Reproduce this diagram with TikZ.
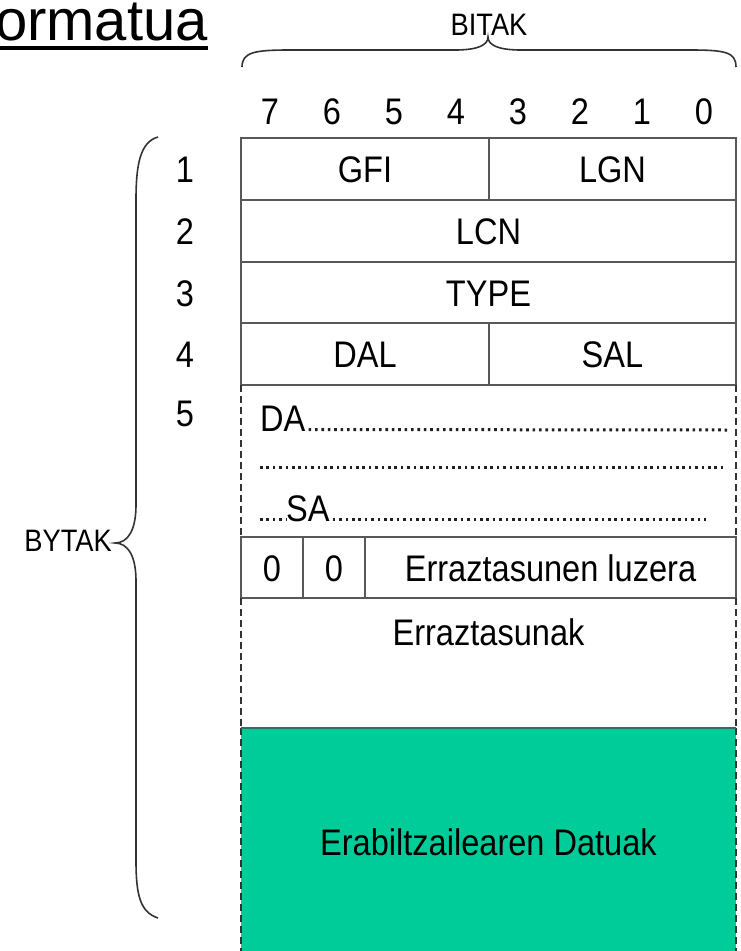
\documentclass[tikz,border=0pt]{standalone}
\usepackage{fontspec}
\setmainfont{Liberation Sans}
\newfontfamily\narrowfont{Liberation Sans}[FakeStretch=0.88]
\definecolor{linegray}{HTML}{585858}
\definecolor{datagreen}{HTML}{00CC99}
\definecolor{greenedge}{HTML}{2F6F5F}
\definecolor{dotgray}{HTML}{202020}
\begin{document}
\begin{tikzpicture}[x=1pt,y=-1pt,
  lbl/.style={font=\narrowfont\fontsize{37}{40}\selectfont, inner sep=0pt, text height=27pt, text depth=0pt},
  small/.style={font=\narrowfont\fontsize{31}{34}\selectfont, inner sep=0pt, text height=22pt, text depth=0pt},
  cell/.style={lbl, draw=linegray, line width=1.7pt},
  area/.style={inner sep=0pt, draw=none},
  sideline/.style={draw=black!80, line width=2.2pt, dash pattern=on 7pt off 4pt},
  dotrow/.style={draw=dotgray, line width=3pt, dash pattern=on 2.6pt off 3.8pt},
  brace/.style={draw=black!80, line width=1.6pt}
]
\useasboundingbox (0,0) rectangle (740,951);

% title
\node[font=\fontsize{58}{62}\selectfont, inner sep=0pt, anchor=base east] (title) at (208,40) {ormatua};
\draw[line width=4pt] (0,47.5) -- (title.base east |- 0,47.5);

% BITAK brace
\node[small] (bitak) at (489,24) {BITAK};
\coordinate (tbl) at (242,67);
\coordinate (tbr) at (736,67);
\coordinate (ttip) at (488,37);
\draw[brace] (tbl) .. controls (242,52) and (255,50) .. (290,50) -- (455,50)
  .. controls (478,50) and (488,45) .. (ttip)
  .. controls (488,45) and (498,50) .. (521,50) -- (690,50)
  .. controls (725,50) and (736,52) .. (tbr);

% bit numbers
\foreach \b [count=\i from 0] in {7,6,5,4,3,2,1,0}
  \node[lbl] (bit\b) at (270+62*\i,111) {\b};

% BYTAK brace
\node[small, anchor=east] (bytak) at (112,540) {BYTAK};
\coordinate (lbt) at (158,137);
\coordinate (lbb) at (158,918);
\coordinate (ltip) at (115,543);
\draw[brace] (lbt) .. controls (140,142) and (136,165) .. (136,200) -- (136,505)
  .. controls (136,530) and (128,543) .. (ltip)
  .. controls (128,543) and (136,556) .. (136,581) -- (136,860)
  .. controls (136,895) and (140,912) .. (lbb);

% byte numbers
\node[lbl] (n1) at (185,169) {1};
\node[lbl] (n2) at (185,231) {2};
\node[lbl] (n3) at (185,292.5) {3};
\node[lbl] (n4) at (185,354) {4};
\node[lbl] (n5) at (185,413) {5};

% rows 1-4
\node[cell, minimum width=248pt, minimum height=62pt] (gfi) at (365,169) {GFI};
\node[cell, minimum width=247pt, minimum height=62pt] (lgn) at (612.5,169) {LGN};
\node[cell, minimum width=495pt, minimum height=62pt] (lcn) at (488.5,231) {LCN};
\node[cell, minimum width=495pt, minimum height=61pt] (type) at (488.5,292.5) {TYPE};
\node[cell, minimum width=248pt, minimum height=62pt] (dal) at (365,354) {DAL};
\node[cell, minimum width=247pt, minimum height=62pt] (sal) at (612.5,354) {SAL};

% row 5 : addresses
\node[area, minimum width=495pt, minimum height=152pt] (addr) at (488.5,461) {};
\draw[sideline] (addr.north west) -- (addr.south west);
\draw[sideline] (addr.north east) -- (addr.south east);
\node[lbl, anchor=base west] (da) at (260,431) {DA};
\coordinate (d1e) at (728,430);
\draw[dotrow] (da.base east) ++(3,-1.5) -- (d1e);
\coordinate (d2s) at (260,467);
\coordinate (d2e) at (724,467);
\draw[dotrow] (d2s) -- (d2e);
\coordinate (d3s) at (260,519.5);
\node[lbl, anchor=base west] (sa) at (286,521) {SA};
\coordinate (d3e) at (706,519.5);
\draw[dotrow] (d3s) -- (sa.base west |- 0,519.5);
\draw[dotrow] (sa.base east) ++(3,-1.5) -- (d3e);

% row 6
\node[cell, minimum width=62pt, minimum height=61pt] (z1) at (272,567.5) {0};
\node[cell, minimum width=62pt, minimum height=61pt] (z2) at (334,567.5) {0};
\node[cell, minimum width=371pt, minimum height=61pt] (len) at (550.5,567.5) {Erraztasunen luzera};

% row 7
\node[area, minimum width=495pt, minimum height=130pt] (opts) at (488.5,663) {};
\draw[sideline] (opts.north west) -- (opts.south west);
\draw[sideline] (opts.north east) -- (opts.south east);
\node[lbl] (optstext) at (488.5,632) {Erraztasunak};

% row 8 : user data
\node[area, fill=datagreen, minimum width=495pt, minimum height=223pt] (data) at (488.5,839.5) {};
\node[lbl] (datatext) at (488.5,842) {Erabiltzailearen Datuak};
\draw[sideline] (data.north west) -- (data.south west);
\draw[sideline] (data.north east) -- (data.south east);
\draw[draw=greenedge, line width=2pt] (data.north west) -- (data.north east);
\end{tikzpicture}
\end{document}
